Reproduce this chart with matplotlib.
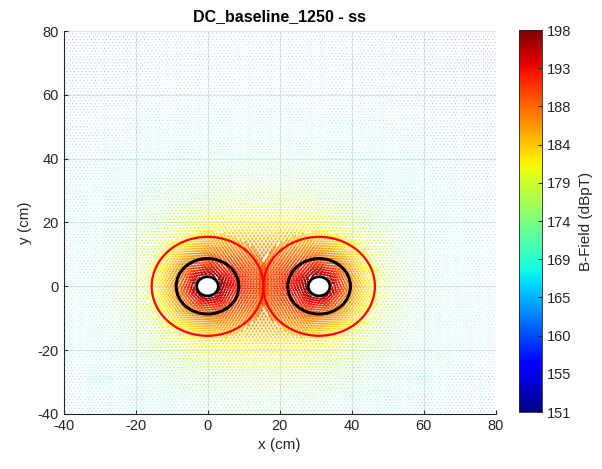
import numpy as np
import matplotlib
matplotlib.use("Agg")
import matplotlib.pyplot as plt
from matplotlib.patches import Circle
from matplotlib.colors import Normalize

plt.rcParams['font.family'] = ['Liberation Sans', 'DejaVu Sans']
plt.rcParams['axes.unicode_minus'] = False

cond_x = [0.0, 31.0]
cond_y = [0.0, 0.0]
cond_I = [1250.0, -1250.0]
cond_r = 3.0
ring_black = 8.7
ring_red = 15.5

cb_min, cb_max = 151, 198
cb_labels = ['151', '155', '160', '165', '169', '174', '179', '184', '188', '193', '198']


def hex_grid(x0, x1, y0, y1, step):
    ys = np.arange(y0, y1 + 1e-9, step * 0.866)
    xs, yy = [], []
    for i, y in enumerate(ys):
        row = np.arange(x0 + (step / 2 if i % 2 else 0), x1 + 1e-9, step)
        xs.append(row); yy.append(np.full(row.shape, y))
    return np.concatenate(xs), np.concatenate(yy)


# sample points: coarse over the window, finer around each conductor
cx_all, cy_all = hex_grid(-40, 80, -40, 80, 1.05)
near = np.zeros(cx_all.shape, bool)
for cx, cy in zip(cond_x, cond_y):
    near |= np.hypot(cx_all - cx, cy_all - cy) < 17
px, py = [cx_all[~near]], [cy_all[~near]]
for cx, cy in zip(cond_x, cond_y):
    fx, fy = hex_grid(cx - 17, cx + 17, cy - 17, cy + 17, 0.85)
    keep = np.hypot(fx - cx, fy - cy) < 17
    px.append(fx[keep]); py.append(fy[keep])
px = np.concatenate(px); py = np.concatenate(py)

# field of two long straight conductors
bx = np.zeros_like(px); by = np.zeros_like(px)
inside = np.zeros(px.shape, bool)
for cx, cy, I in zip(cond_x, cond_y, cond_I):
    dx = (px - cx) / 100; dy = (py - cy) / 100
    r2 = dx**2 + dy**2
    inside |= np.sqrt(r2) * 100 < cond_r + 0.3
    k = 2e-7 * I / np.maximum(r2, 1e-6)
    bx += -k * dy
    by += k * dx
px, py, bx, by = px[~inside], py[~inside], bx[~inside], by[~inside]
bmag = np.hypot(bx, by)
db = 20 * np.log10(bmag / 1e-12)

norm = Normalize(cb_min, cb_max)
cmap = plt.get_cmap('jet')
t = np.clip(norm(db), 0, 1)
cols = cmap(t)
cols[:, 3] = np.clip(0.5 + 1.1 * (t - 0.3), 0.5, 1.0)
length = 0.35 + 1.9 * t**3
u = bx / bmag * length
v = by / bmag * length

fig = plt.figure(figsize=(6.02, 4.69), dpi=100)
ax = fig.add_axes([0.1055, 0.1173, 0.7176, 0.8166])
ax.quiver(px, py, u, v, color=cols, angles='xy', scale_units='xy', scale=1,
          units='dots', width=1.0, headwidth=3, headlength=3, headaxislength=2.6,
          minlength=0.6, zorder=2)

for cx, cy in zip(cond_x, cond_y):
    ax.add_patch(Circle((cx, cy), ring_red, fill=False, ec='red', lw=1.6, zorder=3))
    ax.add_patch(Circle((cx, cy), ring_black, fill=False, ec='black', lw=2.2, zorder=3))
    ax.add_patch(Circle((cx, cy), cond_r, fc='white', ec='black', lw=2.0, zorder=4))

ax.set_xlim(-40, 80)
ax.set_ylim(-40, 80)
ax.set_xticks(np.arange(-40, 81, 20))
ax.set_yticks(np.arange(-40, 81, 20))
ax.grid(True, color='#e2e2e2', lw=0.8, zorder=0)
ax.set_axisbelow(True)
for s in ['top', 'right']:
    ax.spines[s].set_visible(False)
for s in ['left', 'bottom']:
    ax.spines[s].set_color('#262626')
    ax.spines[s].set_linewidth(0.8)
ax.tick_params(direction='in', length=3, labelsize=10.5, colors='#262626')
ax.set_xlabel('x (cm)', fontsize=11, color='#262626')
ax.set_ylabel('y (cm)', fontsize=11, color='#262626')
ax.set_title('DC_baseline_1250 - ss', fontsize=11.5, fontweight='bold', color='black', pad=7)

cax = fig.add_axes([0.862, 0.1215, 0.038, 0.8145])
sm = plt.cm.ScalarMappable(norm=norm, cmap=cmap)
cb = fig.colorbar(sm, cax=cax)
cb.set_ticks(np.linspace(cb_min, cb_max, 11))
cb.set_ticklabels(cb_labels)
cb.outline.set_edgecolor('#262626')
cb.outline.set_linewidth(0.6)
cax.tick_params(direction='in', length=3, labelsize=10.5, colors='#262626')
cb.set_label('B-Field (dBpT)', fontsize=11, color='#262626', labelpad=6)

fig.savefig('out.png', dpi=100)
